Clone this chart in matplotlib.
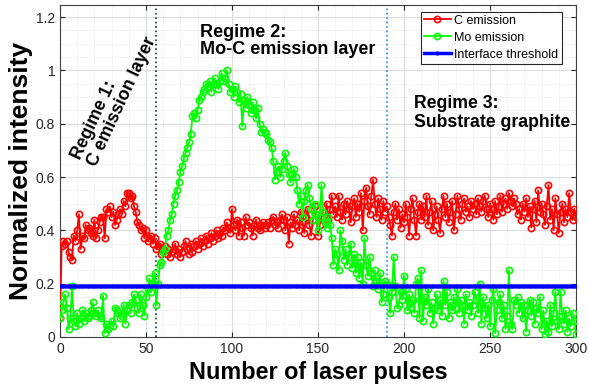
import numpy as np
import matplotlib
matplotlib.use('Agg')
import matplotlib.pyplot as plt
from matplotlib.ticker import MultipleLocator

plt.rcParams['font.family'] = ['Liberation Sans', 'DejaVu Sans']

pulses = np.arange(0, 301)

c_emission = [
    0.07, 0.34, 0.36, 0.35, 0.36, 0.32, 0.30, 0.29, 0.38, 0.36,
    0.40, 0.46, 0.33, 0.38, 0.37, 0.42, 0.40, 0.41, 0.39, 0.38,
    0.44, 0.37, 0.40, 0.43, 0.45, 0.45, 0.37, 0.48, 0.47, 0.49,
    0.45, 0.47, 0.42, 0.44, 0.46, 0.48, 0.46, 0.51, 0.49, 0.54,
    0.54, 0.52, 0.53, 0.49, 0.47, 0.43, 0.42, 0.40, 0.41, 0.37,
    0.40, 0.36, 0.37, 0.38, 0.35, 0.37, 0.33, 0.34, 0.35, 0.31,
    0.32, 0.34, 0.31, 0.33, 0.30, 0.32, 0.33, 0.35, 0.31, 0.33,
    0.30, 0.32, 0.34, 0.36, 0.33, 0.31, 0.35, 0.32, 0.34, 0.36,
    0.33, 0.35, 0.37, 0.34, 0.36, 0.38, 0.35, 0.37, 0.39, 0.36,
    0.38, 0.40, 0.37, 0.39, 0.38, 0.41, 0.40, 0.43, 0.41, 0.39,
    0.48, 0.42, 0.40, 0.44, 0.38, 0.43, 0.41, 0.38, 0.45, 0.42,
    0.43, 0.41, 0.38, 0.42, 0.44, 0.41, 0.40, 0.42, 0.43, 0.41,
    0.42, 0.43, 0.41, 0.44, 0.45, 0.42, 0.43, 0.41, 0.44, 0.46,
    0.44, 0.40, 0.45, 0.35, 0.43, 0.41, 0.46, 0.42, 0.44, 0.40,
    0.47, 0.43, 0.39, 0.45, 0.48, 0.42, 0.38, 0.44, 0.49, 0.46,
    0.38, 0.42, 0.45, 0.47, 0.43, 0.50, 0.44, 0.48, 0.53, 0.46,
    0.49, 0.45, 0.53, 0.47, 0.44, 0.50, 0.46, 0.51, 0.48, 0.43,
    0.49, 0.52, 0.45, 0.50, 0.47, 0.54, 0.40, 0.51, 0.56, 0.49,
    0.46, 0.53, 0.59, 0.50, 0.45, 0.52, 0.48, 0.44, 0.51, 0.47,
    0.49, 0.45, 0.42, 0.38, 0.47, 0.50, 0.44, 0.48, 0.41, 0.46,
    0.43, 0.50, 0.45, 0.38, 0.48, 0.52, 0.44, 0.38, 0.47, 0.50,
    0.44, 0.49, 0.45, 0.53, 0.42, 0.47, 0.51, 0.40, 0.46, 0.49,
    0.44, 0.39, 0.48, 0.53, 0.45, 0.50, 0.43, 0.47, 0.51, 0.40,
    0.46, 0.53, 0.48, 0.44, 0.50, 0.52, 0.47, 0.49, 0.45, 0.51,
    0.48, 0.50, 0.46, 0.52, 0.49, 0.47, 0.51, 0.53, 0.48, 0.45,
    0.50, 0.48, 0.44, 0.51, 0.46, 0.49, 0.53, 0.47, 0.50, 0.52,
    0.48, 0.54, 0.51, 0.49, 0.52, 0.50, 0.46, 0.48, 0.44, 0.50,
    0.47, 0.52, 0.45, 0.49, 0.41, 0.48, 0.51, 0.43, 0.55, 0.47,
    0.50, 0.46, 0.42, 0.49, 0.57, 0.44, 0.48, 0.40, 0.52, 0.46,
    0.39, 0.47, 0.50, 0.43, 0.48, 0.45, 0.54, 0.47, 0.44, 0.48,
    0.45,
]

mo_emission = [
    0.07, 0.10, 0.13, 0.16, 0.11, 0.03, 0.07, 0.19, 0.06, 0.04,
    0.09, 0.05, 0.07, 0.10, 0.06, 0.09, 0.07, 0.08, 0.10, 0.13,
    0.09, 0.08, 0.10, 0.08, 0.07, 0.155, 0.015, 0.05, 0.03, 0.04,
    0.06, 0.04, 0.11, 0.10, 0.09, 0.07, 0.08, 0.12, 0.05, 0.10,
    0.12, 0.09, 0.13, 0.16, 0.14, 0.11, 0.09, 0.16, 0.12, 0.08,
    0.15, 0.18, 0.22, 0.17, 0.20, 0.24, 0.12, 0.20, 0.27, 0.28,
    0.32, 0.33, 0.38, 0.40, 0.44, 0.46, 0.50, 0.53, 0.55, 0.58,
    0.62, 0.64, 0.67, 0.69, 0.71, 0.73, 0.76, 0.83, 0.84, 0.82,
    0.85, 0.89, 0.90, 0.92, 0.93, 0.95, 0.94, 0.96, 0.92, 0.95,
    0.97, 0.95, 0.93, 0.96, 0.99, 0.96, 0.97, 1.00, 0.95, 0.92,
    0.93, 0.90, 0.94, 0.92, 0.88, 0.91, 0.79, 0.89, 0.86, 0.90,
    0.87, 0.84, 0.88, 0.85, 0.82, 0.86, 0.80, 0.77, 0.78, 0.77,
    0.76, 0.74, 0.73, 0.71, 0.66, 0.59, 0.62, 0.64, 0.60, 0.63,
    0.66, 0.69, 0.64, 0.61, 0.58, 0.61, 0.63, 0.60, 0.55, 0.50,
    0.53, 0.45, 0.51, 0.55, 0.57, 0.52, 0.48, 0.44, 0.50, 0.46,
    0.40, 0.45, 0.57, 0.47, 0.43, 0.41, 0.45, 0.42, 0.37, 0.27,
    0.33, 0.31, 0.25, 0.40, 0.36, 0.29, 0.33, 0.27, 0.30, 0.35,
    0.26, 0.31, 0.24, 0.30, 0.22, 0.28, 0.20, 0.37, 0.27, 0.23,
    0.30, 0.24, 0.19, 0.25, 0.21, 0.18, 0.24, 0.13, 0.16, 0.21,
    0.20, 0.15, 0.09, 0.17, 0.30, 0.19, 0.11, 0.12, 0.17, 0.14,
    0.23, 0.18, 0.10, 0.16, 0.11, 0.14, 0.09, 0.20, 0.22, 0.07,
    0.25, 0.06, 0.15, 0.12, 0.18, 0.09, 0.13, 0.05, 0.11, 0.16,
    0.10, 0.14, 0.08, 0.21, 0.12, 0.17, 0.07, 0.13, 0.10, 0.15,
    0.11, 0.18, 0.09, 0.14, 0.12, 0.05, 0.16, 0.10, 0.13, 0.08,
    0.12, 0.17, 0.14, 0.09, 0.20, 0.05, 0.15, 0.11, 0.07, 0.12,
    0.04, 0.14, 0.18, 0.015, 0.10, 0.13, 0.16, 0.07, 0.12, 0.03,
    0.08, 0.25, 0.05, 0.03, 0.14, 0.12, 0.15, 0.09, 0.13, 0.07,
    0.12, 0.02, 0.10, 0.14, 0.08, 0.13, 0.05, 0.11, 0.09, 0.15,
    0.03, 0.10, 0.01, 0.06, 0.02, 0.12, 0.04, 0.09, 0.17, 0.06,
    0.03, 0.17, 0.08, 0.05, 0.10, 0.02, 0.07, 0.04, 0.09, 0.06,
    0.01,
]

threshold = 0.19
regime_bounds = [56, 190]

fig = plt.figure(figsize=(5.89, 3.92), dpi=100)
# axes box: x 60..576 px, y 5..337 px
ax = fig.add_axes([60 / 589, 55 / 392, 516 / 589, 332 / 392])

ax.plot(pulses, c_emission, '-o', color='#ff0000', mfc='none', ms=4.5,
        mew=1.2, lw=1.3, label='C emission', zorder=3)
ax.plot(pulses, mo_emission, '-o', color='#00ff00', mfc='none', ms=4.5,
        mew=1.2, lw=1.3, label='Mo emission', zorder=4)
ax.plot(pulses, np.full(len(pulses), threshold), '-', marker='.',
        color='#0000ff', ms=4, lw=2.5, label='Interface threshold', zorder=5)

ax.axvline(regime_bounds[0], color='#1a3050', ls=':', lw=1.2, zorder=2)
ax.axvline(regime_bounds[1], color='#2a8ee8', ls=':', lw=1.2, zorder=2)

ax.text(31.4, 0.895, 'Regime 1:\nC emission layer', rotation=65,
        ha='center', va='center', multialignment='left', fontsize=12.7,
        fontweight='bold', linespacing=1.0)
ax.text(81.5, 1.11, 'Regime 2:\nMo-C emission layer', ha='left',
        va='center', fontsize=13, fontweight='bold', linespacing=1.05)
ax.text(206, 0.84, 'Regime 3:\nSubstrate graphite', ha='left', va='center',
        fontsize=12.7, fontweight='bold', linespacing=1.2)

ax.set_xlim(0, 300)
ax.set_ylim(0, 1.245)
ax.set_xticks([0, 50, 100, 150, 200, 250, 300])
ax.set_yticks([0, 0.2, 0.4, 0.6, 0.8, 1.0, 1.2])
ax.set_yticklabels(['0', '0.2', '0.4', '0.6', '0.8', '1', '1.2'])
ax.xaxis.set_minor_locator(MultipleLocator(10))
ax.yaxis.set_minor_locator(MultipleLocator(0.05))
ax.grid(which='major', color='#dcdcdc', lw=0.8)
ax.grid(which='minor', color='#e2e2e2', lw=0.6, ls=':')
ax.set_axisbelow(True)
ax.tick_params(which='both', direction='in', top=True, right=True,
               colors='#262626', labelsize=10)
ax.tick_params(which='minor', length=0)
for s in ax.spines.values():
    s.set_color('#404040')
    s.set_linewidth(0.8)

ax.set_xlabel('Number of laser pulses', fontsize=16.8, fontweight='bold',
              labelpad=4)
ax.set_ylabel('Normalized intensity', fontsize=19, fontweight='bold',
              labelpad=2)

leg = ax.legend(loc='upper right', fontsize=9, handlelength=2.1,
                borderpad=0.25, labelspacing=0.4, handletextpad=0.3,
                borderaxespad=0, fancybox=False, framealpha=1,
                bbox_to_anchor=(0.972, 0.980))
leg.get_frame().set_edgecolor('#262626')
leg.get_frame().set_linewidth(0.8)

fig.savefig('out.png', dpi=100)
